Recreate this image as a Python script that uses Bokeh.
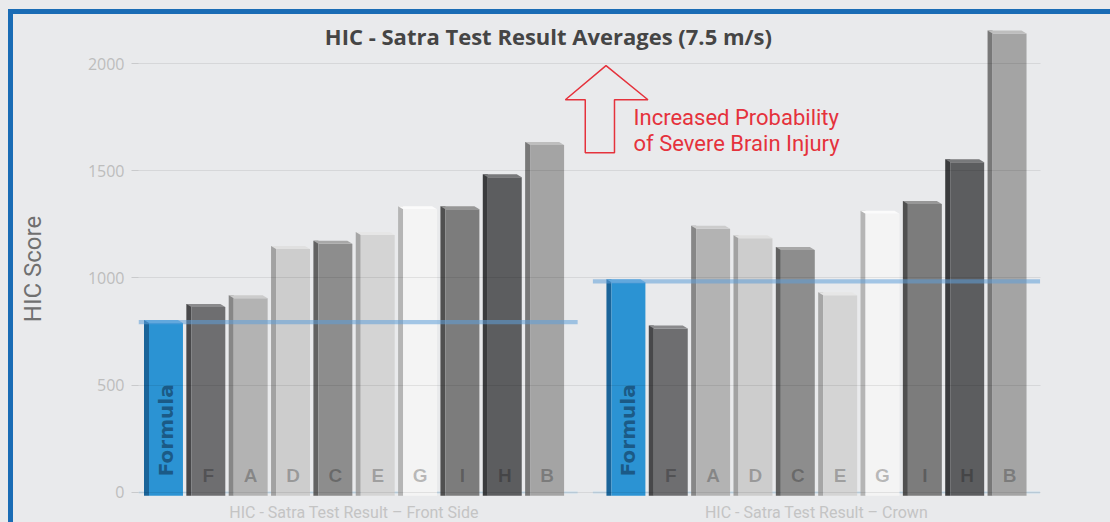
import numpy as np
from bokeh.plotting import figure
from bokeh.models import ColumnDataSource, FixedTicker, Label, Range1d
from bokeh.core.properties import value
from bokeh.embed import file_html
from bokeh.resources import INLINE

# ---------------- data ----------------
helmets = ["Formula", "F", "A", "D", "C", "E", "G", "I", "H", "B"]
front_side = [790, 865, 905, 1135, 1160, 1200, 1320, 1320, 1470, 1620]
crown = [980, 765, 1230, 1185, 1130, 920, 1300, 1345, 1540, 2140]
group_names = ["HIC - Satra Test Result – Front Side", "HIC - Satra Test Result – Crown"]
y_ticks = [0, 500, 1000, 1500, 2000]
title_text = "HIC - Satra Test Result Averages (7.5 m/s)"
note_lines = ["Increased Probability", "of Severe Brain Injury"]

# ---------------- styles ----------------
face_colors = ["#2b93d3", "#6e6e70", "#b3b3b3", "#cdcdcd", "#8d8d8d", "#d4d4d4", "#f4f4f4", "#7c7c7c", "#5c5d5f", "#a4a4a4"]
side_colors = ["#1a6499", "#48484a", "#878787", "#a2a2a2", "#626262", "#a6a6a6", "#b5b5b5", "#505050", "#3a3b3d", "#787878"]
top_colors = ["#66b3e3", "#8a8a8c", "#cccccc", "#e0e0e0", "#a8a8a8", "#e6e6e6", "#fbfbfb", "#979797", "#78797b", "#bebebe"]

GROUP_GAP = 10.92
starts = [0.0, GROUP_GAP]
series = [front_side, crown]

BG = "#e9eaec"
BLUE = "#1a6cb5"
p = figure(width=1110, height=522,
           x_range=Range1d(-0.59, 20.71), y_range=Range1d(-139.9, 2223.8),
           x_axis_type=None, output_backend="svg", toolbar_location=None,
           min_border_left=138, min_border_right=70, min_border_top=15, min_border_bottom=0,
           background_fill_color=BG, border_fill_alpha=0, outline_line_color=None)
p.styles = {
    "background": (f"linear-gradient({BLUE}, {BLUE}) 8px 9px / 100% 5px no-repeat, "
                   f"linear-gradient({BLUE}, {BLUE}) 8px 9px / 5px 100% no-repeat, {BG}")
}

# y axis
p.yaxis.ticker = FixedTicker(ticks=y_ticks)
p.yaxis.axis_line_color = None
p.yaxis.major_tick_in = 0
p.yaxis.major_tick_out = 7
p.yaxis.major_tick_line_color = "#c9cacc"
p.yaxis.minor_tick_line_color = None
p.yaxis.major_label_standoff = 7
p.yaxis.major_label_text_color = "#bdbdbd"
p.yaxis.major_label_text_font = "Open Sans"
p.yaxis.major_label_text_font_size = "16px"
p.yaxis.axis_label = "HIC Score"
p.yaxis.axis_label_text_font = "Roboto"
p.yaxis.axis_label_text_font_style = "normal"
p.yaxis.axis_label_text_font_size = "24px"
p.yaxis.axis_label_text_color = "#707070"
p.yaxis.axis_label_standoff = 38

p.ygrid.grid_line_color = "#000000"
p.ygrid.grid_line_alpha = 0.08
p.ygrid.level = "overlay"

HALF = 0.46
SIDE = 0.118
TOP_H = 14
BASE = -15

for g, (start, vals) in enumerate(zip(starts, series)):
    xs = np.arange(len(helmets)) + start
    vals = np.array(vals, dtype=float)
    # base line at zero
    p.hbar(y=[0], left=[start - 0.78], right=[start + 9.78], height=10,
           fill_color="#c8dbe9", line_color=None)
    src = ColumnDataSource(dict(
        x_face=xs + SIDE / 2, x_side=xs - HALF + SIDE / 2, v=vals, v_top=vals + TOP_H,
        face=face_colors, side=side_colors, label=helmets,
    ))
    p.vbar(x="x_side", width=SIDE, bottom=BASE, top="v_top", fill_color="side",
           line_color=None, source=src)
    p.vbar(x="x_face", width=2 * HALF - SIDE, bottom=BASE, top="v",
           fill_color="face", line_color=None, source=src)
    tops = ColumnDataSource(dict(
        xs=[[x - HALF + SIDE, x + HALF, x + HALF - SIDE, x - HALF] for x in xs],
        ys=[[v, v, v + TOP_H, v + TOP_H] for v in vals],
        top=top_colors,
    ))
    p.patches(xs="xs", ys="ys", fill_color="top", line_color=None, source=tops)

    # letters on bars (not Formula)
    letters = ColumnDataSource(dict(x=list(xs[1:] + SIDE / 2), y=[80] * (len(helmets) - 1), t=helmets[1:]))
    p.text(x="x", y="y", text="t", source=letters, text_align="center", text_baseline="middle",
           text_font=value("Liberation Sans"), text_font_style="bold", text_font_size="19px",
           text_color="#000000", text_alpha=0.25)
    p.text(x=[xs[0] + SIDE / 2], y=[290], text=[helmets[0]], angle=np.pi / 2,
           text_align="center", text_baseline="middle", text_font=value("DejaVu Sans"),
           text_font_style="bold", text_font_size="20px", text_color="#1b5a86")

    # reference band at Formula level
    p.hbar(y=[vals[0] + 4], left=[start - 0.78], right=[start + 9.78], height=20,
           fill_color="#5f9fd8", fill_alpha=0.55, line_color=None)

    # group label
    p.text(x=[start + 4.5], y=[-93], text=[group_names[g]], text_align="center",
           text_baseline="middle", text_font=value("Roboto"), text_font_size="16px",
           text_color="#c4c4c4")

# title
p.add_layout(Label(x=9.09, y=2130, text=title_text, text_align="center", text_baseline="middle",
                   text_font="Open Sans", text_font_style="bold", text_font_size="22px",
                   text_color="#454545"))

# red outline arrow
arrow_x = [10.45, 11.44, 10.65, 10.65, 9.96, 9.96, 9.49, 10.45]
arrow_y = [1990, 1831, 1831, 1584, 1584, 1831, 1831, 1990]
p.patch(arrow_x, arrow_y, fill_color=None, line_color="#e5323c", line_width=1.5)
p.text(x=[11.1, 11.1], y=[1750, 1625], text=note_lines, text_align="left", text_baseline="middle",
       text_font=value("Roboto"), text_font_size="22px", text_color="#e5323c")

open("out.html", "w").write(file_html(p, INLINE))
